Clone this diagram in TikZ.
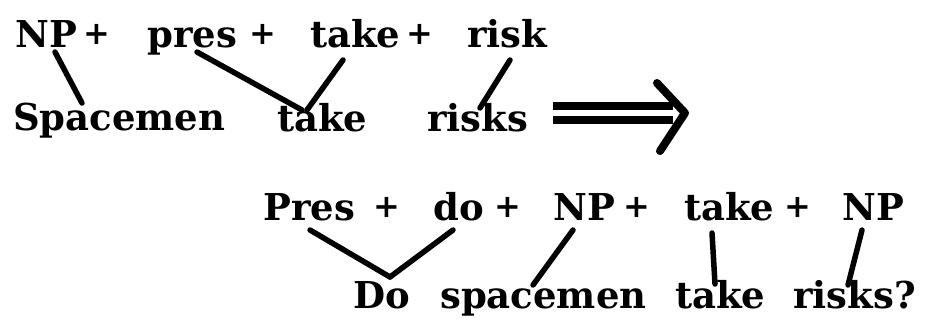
\documentclass[tikz,border=0pt]{standalone}
\usepackage{fontspec}
\setmainfont{DejaVu Serif}
\usetikzlibrary{positioning}

\begin{document}
\begin{tikzpicture}[
    x=1pt, y=-1pt,
    word/.style={anchor=base west, inner sep=0pt, font=\fontsize{37}{42}\selectfont\bfseries},
    plus/.style={anchor=base, inner sep=0pt, yshift=3pt, font=\fontsize{32}{38}\selectfont\bfseries},
    link/.style={line width=5.5pt, line cap=round},
    shaft/.style={double, line width=8pt, double distance=6pt},
    arrowhead/.style={line width=8pt, line cap=round, line join=round}
]
\useasboundingbox (0,0) rectangle (928,322);

% Kernel string
\node[word] (np1) at (15,47) {NP};
\node[plus] (plus1a) at (97,47) {+};
\node[word] (pres1) at (147,47) {pres};
\node[plus] (plus1b) at (263,47) {+};
\node[word] (take1) at (310,47) {take};
\node[plus] (plus1c) at (420,47) {+};
\node[word] (risk1) at (467,47) {risk};

% Kernel sentence
\node[word] (spacemen2) at (13,130) {Spacemen};
\node[word] (take2) at (277,131) {take};
\node[word] (risks2) at (427,131) {risks};

% Transformed string
\node[word] (pres3) at (263,220) {Pres};
\node[plus] (plus3a) at (387,220) {+};
\node[word] (do3) at (433,220) {do};
\node[plus] (plus3b) at (508,220) {+};
\node[word] (np3) at (553,220) {NP};
\node[plus] (plus3c) at (637,220) {+};
\node[word] (take3) at (684,220) {take};
\node[plus] (plus3d) at (798,220) {+};
\node[word] (npb3) at (842,220) {NP};

% Question
\node[word] (do4) at (353,308) {Do};
\node[word] (spacemen4) at (440,308) {spacemen};
\node[word] (take4) at (675,308) {take};
\node[word] (risks4) at (793,308) {risks?};

% Links
\draw[link] ([xshift=40pt,yshift=-5pt]np1.base west) -- ([xshift=69pt,yshift=27pt]spacemen2.base west);
\draw[link] ([xshift=50pt,yshift=-5pt]pres1.base west) -- ([xshift=25pt,yshift=21pt]take2.base west);
\draw[link] ([xshift=33pt,yshift=-13pt]take1.base west) -- ([xshift=30pt,yshift=21pt]take2.base west);
\draw[link] ([xshift=43pt,yshift=-13pt]risk1.base west) -- ([xshift=53pt,yshift=23pt]risks2.base west);

\draw[link] ([xshift=47pt,yshift=-10pt]pres3.base west) -- ([xshift=37pt,yshift=31pt]do4.base west);
\draw[link] ([xshift=20pt,yshift=-10pt]do3.base west) -- ([xshift=37pt,yshift=31pt]do4.base west);
\draw[link] ([xshift=20pt,yshift=-10pt]np3.base west) -- ([xshift=93pt,yshift=23pt]spacemen4.base west);
\draw[link] ([xshift=28pt,yshift=-13pt]take3.base west) -- ([xshift=40pt,yshift=24pt]take4.base west);
\draw[link] ([xshift=20pt,yshift=-10pt]npb3.base west) -- ([xshift=55pt,yshift=23pt]risks4.base west);

% Transformation arrow
\coordinate (arrs) at (553,113);
\coordinate (arre) at (685,113);
\draw[shaft] (arrs) -- ([xshift=-12pt]arre);
\draw[arrowhead] ([shift={(-28pt,30pt)}]arre) -- (arre) -- ([shift={(-25pt,-38pt)}]arre);

\end{tikzpicture}
\end{document}
